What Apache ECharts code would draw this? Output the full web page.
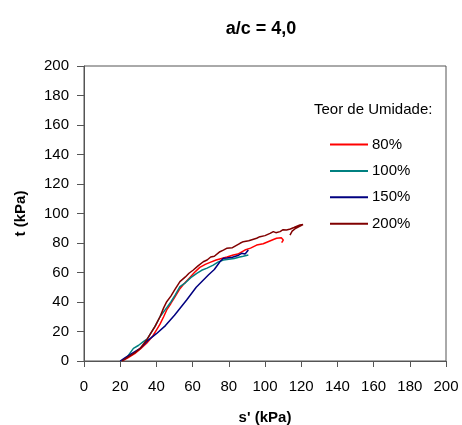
<!DOCTYPE html>
<html>
<head>
<meta charset="utf-8">
<script src="https://cdn.jsdelivr.net/npm/echarts@6/dist/echarts.min.js"></script>
<style>
  html, body { margin: 0; padding: 0; background: #fff; }
  #chart { width: 462px; height: 425px; }
</style>
</head>
<body>
<div id="chart"></div>
<script>
// Stress paths t versus s' for a/c = 4,0 at four moisture contents
const seriesNames = ['80%', '100%', '150%', '200%'];
const seriesColors = ['#FF0000', '#008080', '#000080', '#800000'];

const path80 = [
  [21,0],[24,2],[28,5],[31,8],[34.6,12],[36,14],[38,17],[40,21],[42,25],[44,30],
  [45.7,34.6],[48,39],[50,43],[53,49],[55,52],[58,56],[61,60],[64,63.5],[67,65.5],
  [70,67],[73,68.5],[76,69.5],[79,70.5],[82.5,71.9],[85,72.5],[88.9,75.2],[92,76.5],
  [95.4,78.6],[99,79.5],[102,81],[105,82.5],[106.4,83.2],[107.4,83.9],[109,83.5],
  [110.1,82],[109.2,80.2]
];
const path100 = [
  [21,0],[24,3],[27.3,8.6],[30,10.5],[32.8,13.1],[35,15],[37,19],[39.5,24],[42,30],
  [45,35],[48,40],[50.5,45],[53,50.4],[56,53],[59,56.5],[62.3,59.4],[65,61.5],[68,63],
  [71.4,65],[74,67],[77,68.5],[80,69],[83,69.5],[86,70.5],[88,71],[90.8,71.9]
];
const path150 = [
  [20,0],[23,2.5],[27,5.5],[31,8.5],[35.5,14.2],[40,18.5],[45,24],[50,31],[56.7,41.4],
  [62,50],[68.7,58.3],[72,62],[75.1,67.3],[77,69.6],[79,69.8],[82,70.4],[85,71.5],
  [87.1,73],[89,72.5],[90.8,75.2]
];
const path200 = [
  [21,0],[24,2.5],[28,5.5],[31,8.5],[34.6,14.2],[37,19],[39,23],[42,30],[44,36],
  [45.7,40.2],[48,44],[50,48],[53,53.8],[56,57],[58,59.5],[60.4,61.7],[63,64.5],
  [65.9,67.3],[68,68.5],[70,70.5],[72,71],[75.1,74.1],[77,75.2],[78.8,76.4],[82,76.8],
  [86.2,79.8],[88,80.9],[91,81.5],[95.4,83.2],[97.2,84.3],[100,85],[102.8,86.5],
  [104.6,87.7],[106,87],[108.3,87.7],[110,89],[111.9,88.8],[114,89.5],[116,90.5],
  [119.3,92.2],[121,92.5],[122.1,92.9],[120,91.5],[117,90],[115,88],[113.8,85.4]
];
const paths = [path80, path100, path150, path200];

const xTicks = { min: 0, max: 200, interval: 20 };
const yTicks = { min: 0, max: 200, interval: 20 };

const FONT = 'Liberation Sans, Arial, sans-serif';
const chart = echarts.init(document.getElementById('chart'));

chart.setOption({
  animation: false,
  backgroundColor: '#fff',
  title: [
    {
      text: 'a/c = 4,0',
      left: 256, top: 15, textAlign: 'center',
      textStyle: { fontFamily: FONT, fontSize: 18, fontWeight: 'bold', color: '#000' }
    },
    {
      text: 'Teor de Umidade:',
      left: 309, top: 97,
      textStyle: { fontFamily: FONT, fontSize: 15, fontWeight: 'normal', color: '#000' }
    }
  ],
  legend: {
    orient: 'vertical',
    left: 325, top: 132,
    itemWidth: 38, itemHeight: 14, itemGap: 11.4,
    icon: 'path://M0,0 L38,0 L38,2 L0,2 Z',
    textStyle: { fontFamily: FONT, fontSize: 15, color: '#000', padding: [0, 0, 0, -1] },
    data: seriesNames
  },
  grid: {
    left: 84, top: 66, right: 16, bottom: 64,
    containLabel: false, outerBoundsMode: 'none',
    show: true, borderColor: '#555', borderWidth: 1
  },
  xAxis: {
    type: 'value',
    min: xTicks.min, max: xTicks.max, interval: xTicks.interval,
    name: "s' (kPa)", nameLocation: 'middle', nameGap: 49,
    nameTextStyle: { fontFamily: FONT, fontSize: 15, fontWeight: 'bold', color: '#000' },
    axisLine: { show: true, lineStyle: { color: '#555', width: 1 } },
    axisTick: { show: true, inside: false, length: 6, lineStyle: { color: '#555' } },
    axisLabel: { fontFamily: FONT, fontSize: 15, color: '#000', margin: 18 },
    splitLine: { show: false }
  },
  yAxis: {
    type: 'value',
    min: yTicks.min, max: yTicks.max, interval: yTicks.interval,
    name: 't (kPa)', nameLocation: 'middle', nameGap: 56, nameRotate: 90,
    nameTextStyle: { fontFamily: FONT, fontSize: 15, fontWeight: 'bold', color: '#000' },
    axisLine: { show: true, lineStyle: { color: '#555', width: 1 } },
    axisTick: { show: true, inside: false, length: 7, lineStyle: { color: '#555' } },
    axisLabel: { fontFamily: FONT, fontSize: 15, color: '#000', margin: 15 },
    splitLine: { show: false }
  },
  series: seriesNames.map((name, i) => ({
    name: name,
    type: 'line',
    data: paths[i],
    showSymbol: false,
    symbol: 'none',
    color: seriesColors[i],
    lineStyle: { width: 1.5, color: seriesColors[i] }
  }))
});
</script>
</body>
</html>
